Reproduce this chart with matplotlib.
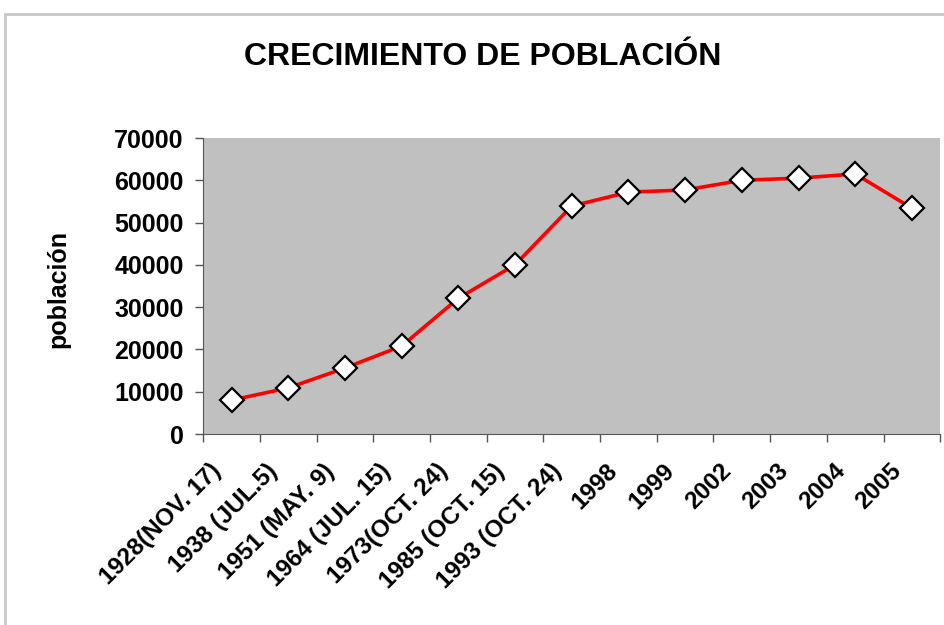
import numpy as np
import matplotlib.pyplot as plt
import matplotlib.transforms as mtransforms
from matplotlib.patches import Rectangle

# datos
fechas = ['1928(NOV. 17)', '1938 (JUL.5)', '1951 (MAY. 9)', '1964 (JUL. 15)',
          '1973(OCT. 24)', '1985 (OCT. 15)', '1993 (OCT. 24)', '1998', '1999',
          '2002', '2003', '2004', '2005']
poblacion = [8000, 10900, 15600, 20800, 32100, 40000, 53900, 57200, 57700,
             60000, 60500, 61500, 53400]

plt.rcParams['font.family'] = ['Liberation Sans', 'DejaVu Sans']

fig = plt.figure(figsize=(9.45, 6.25), dpi=100)
# marco gris alrededor del grafico
fig.patches.append(Rectangle((5 / 945, -0.05), 1.2, (625 - 14) / 625 + 0.05,
                             transform=fig.transFigure, fill=False,
                             edgecolor='#c8c8c8', linewidth=2))

ax = fig.add_axes([0.215, 0.3056, 0.78, 0.4736])
ax.set_facecolor('#c0c0c0')

x = np.arange(len(fechas))
ax.plot(x, poblacion, color='#ff0000', linewidth=2.6, marker='D', markersize=12,
        markerfacecolor='white', markeredgecolor='black', markeredgewidth=1.6)

ax.set_xlim(-0.5, len(fechas) - 0.5)
ax.set_ylim(0, 70000)
ax.set_yticks(np.arange(0, 70001, 10000))
ax.tick_params(axis='y', labelsize=18, length=6, color='#555555', width=1, pad=8)
for t in ax.get_yticklabels():
    t.set_fontweight('bold')

ax.set_xticks(x)
ax.set_xticklabels(fechas, rotation=45, ha='right', va='center',
                   rotation_mode='anchor', fontsize=17.5, fontweight='bold')
ax.tick_params(axis='x', length=0, pad=14)
# desplazar las etiquetas un poco abajo a la izquierda
desp = mtransforms.ScaledTranslation(-14 / 100, -14 / 100, fig.dpi_scale_trans)
for t in ax.get_xticklabels():
    t.set_transform(t.get_transform() + desp)
ax.set_xticks(np.arange(-0.5, len(fechas), 1), minor=True)
ax.tick_params(axis='x', which='minor', length=6, color='#555555', width=1)

for s in ['top', 'right']:
    ax.spines[s].set_visible(False)
ax.spines['left'].set_color('#555555')
ax.spines['bottom'].set_color('#555555')

ax.set_ylabel('población', fontsize=18, fontweight='bold')
ax.yaxis.set_label_coords(58 / 945, 0.538, transform=fig.transFigure)
ax.yaxis.label.set_verticalalignment('center')
fig.text(483 / 945, 1 - 57 / 625, 'CRECIMIENTO DE POBLACIÓN', ha='center',
         va='center', fontsize=23, fontweight='bold')

fig.savefig('out.png', dpi=100)
